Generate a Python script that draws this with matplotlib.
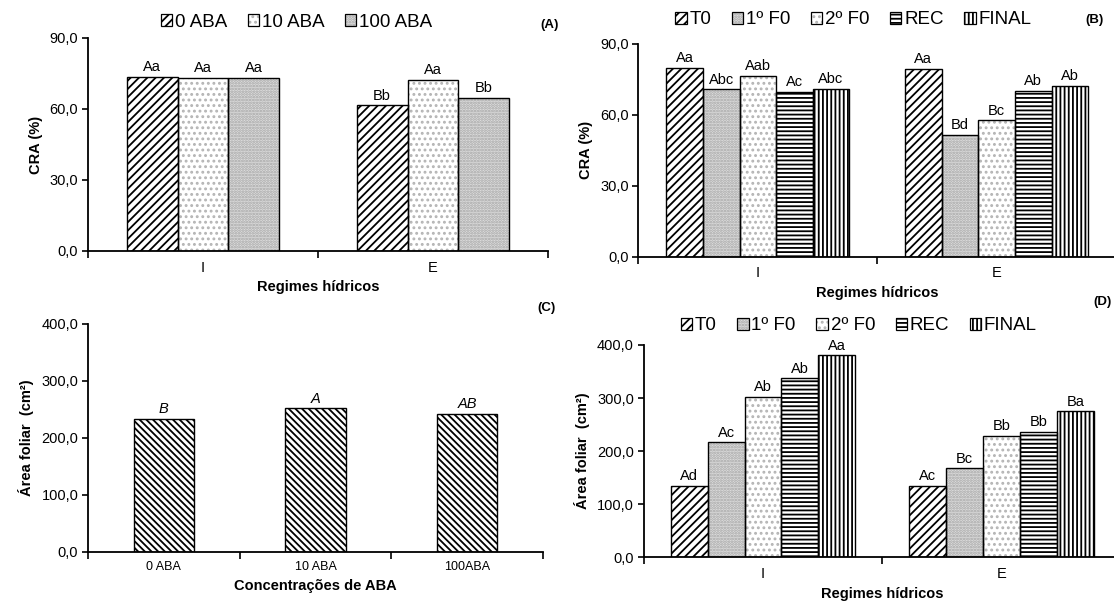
import numpy as np
import matplotlib
matplotlib.use("Agg")
import matplotlib.pyplot as plt
from matplotlib.patches import Patch

plt.rcParams["font.family"] = ["Liberation Sans", "DejaVu Sans"]
plt.rcParams["hatch.linewidth"] = 1.3

# Panel A - CRA (%) by water regime and ABA concentration
regimes = ["I", "E"]
aba_series = ["0 ABA", "10 ABA", "100 ABA"]
cra_aba = [[73.7, 61.5], [73.3, 72.2], [73.0, 64.6]]
cra_aba_letters = [["Aa", "Bb"], ["Aa", "Aa"], ["Aa", "Bb"]]

# Panel B - CRA (%) by water regime and evaluation time
times = ["T0", "1º F0", "2º F0", "REC", "FINAL"]
cra_time = [[80.0, 79.6], [70.8, 51.5], [76.5, 57.7], [69.8, 70.0], [71.0, 72.4]]
cra_time_letters = [["Aa", "Aa"], ["Abc", "Bd"], ["Aab", "Bc"], ["Ac", "Ab"], ["Abc", "Ab"]]

# Panel C - leaf area by ABA concentration
aba_levels = ["0 ABA", "10 ABA", "100ABA"]
area_aba = [233.7, 251.8, 241.9]
area_aba_letters = ["B", "A", "AB"]

# Panel D - leaf area by water regime and evaluation time
area_time = [[135.0, 134.4], [216.6, 167.7], [302.0, 228.6], [337.2, 236.7], [380.5, 275.0]]
area_time_letters = [["Ad", "Ac"], ["Ac", "Bc"], ["Ab", "Bb"], ["Ab", "Bb"], ["Aa", "Ba"]]

# fill styles: (facecolor, hatch colour, hatch)
STYLE_DIAG = ("white", "black", "////")
STYLE_SPARSE = ("white", "#b4b4b4", "...")
STYLE_DENSE = ("#dedede", "#a4a4a4", "......")
STYLE_HORIZ = ("white", "black", "----")
STYLE_VERT = ("white", "black", "||||")
STYLE_BACK = ("white", "black", "\\" * 5)


def draw_bar(ax, x, h, w, style):
    face, hcol, hatch = style
    ax.bar(x, h, w, color=face, edgecolor=hcol, hatch=hatch, linewidth=0, zorder=2)
    ax.bar(x, h, w, fill=False, edgecolor="black", linewidth=1.0, zorder=3)


def legend_handle(style):
    face, hcol, hatch = style
    return (Patch(facecolor=face, edgecolor=hcol, hatch=hatch, linewidth=0),
            Patch(fill=False, edgecolor="black", linewidth=0.9))


def style_axis(ax, ncat, ymax, ystep, cat_labels, xlabel, ylabel, cat_size=10.5):
    for s in ["top", "right"]:
        ax.spines[s].set_visible(False)
    for s in ["left", "bottom"]:
        ax.spines[s].set_linewidth(1.3)
    ax.set_xlim(-0.5, ncat - 0.5)
    ax.set_ylim(0, ymax)
    yt = np.arange(0, ymax + 1, ystep)
    ax.set_yticks(yt)
    ax.set_yticklabels([f"{v:.1f}".replace(".", ",") for v in yt], fontsize=10.5)
    ax.tick_params(axis="y", direction="out", length=4, width=1.2, pad=3)
    ax.set_xticks(np.arange(ncat + 1) - 0.5)
    ax.set_xticklabels([])
    ax.tick_params(axis="x", which="major", direction="out", length=5, width=1.2)
    ax.set_xticks(np.arange(ncat), minor=True)
    ax.set_xticklabels(cat_labels, minor=True, fontsize=cat_size)
    ax.tick_params(axis="x", which="minor", length=0, pad=7)
    ax.set_xlabel(xlabel, fontsize=10.5, fontweight="bold", labelpad=4)
    ax.set_ylabel(ylabel, fontsize=10.5, fontweight="bold", labelpad=5)


def grouped(ax, values, letters, styles, group_w):
    n = len(values)
    w = group_w / n
    x = np.arange(len(values[0]))
    for i in range(n):
        xi = x - group_w / 2 + w * (i + 0.5)
        for j in range(len(x)):
            draw_bar(ax, xi[j], values[i][j], w, styles[i])
            ax.annotate(letters[i][j], (xi[j], values[i][j]), xytext=(0, 2),
                        textcoords="offset points", ha="center", va="bottom",
                        fontsize=10.5)


def main():
    fig = plt.figure(figsize=(11.14, 6.01), dpi=100)
    ax_a = fig.add_axes([0.0790, 0.5824, 0.4129, 0.3544])
    ax_b = fig.add_axes([0.5731, 0.5729, 0.4287, 0.3539])
    ax_c = fig.add_axes([0.0790, 0.0820, 0.4084, 0.3789])
    ax_d = fig.add_axes([0.5778, 0.0727, 0.4285, 0.3533])

    aba_styles = [STYLE_DIAG, STYLE_SPARSE, STYLE_DENSE]
    time_styles = [STYLE_DIAG, STYLE_DENSE, STYLE_SPARSE, STYLE_HORIZ, STYLE_VERT]

    # (A)
    grouped(ax_a, cra_aba, cra_aba_letters, aba_styles, 0.664)
    style_axis(ax_a, 2, 90, 30, regimes, "Regimes hídricos", "CRA (%)")

    # (B)
    grouped(ax_b, cra_time, cra_time_letters, time_styles, 0.767)
    style_axis(ax_b, 2, 90, 30, regimes, "Regimes hídricos", "CRA (%)")

    # (C)
    xc = np.arange(len(aba_levels))
    for i in range(len(xc)):
        draw_bar(ax_c, xc[i], area_aba[i], 0.4, STYLE_BACK)
        ax_c.annotate(area_aba_letters[i], (xc[i], area_aba[i]), xytext=(0, 2),
                      textcoords="offset points", ha="center", va="bottom",
                      fontsize=10.5, style="italic")
    style_axis(ax_c, 3, 400, 100, aba_levels, "Concentrações de ABA",
               "Área foliar  (cm²)", cat_size=9)

    # (D)
    grouped(ax_d, area_time, area_time_letters, time_styles, 0.773)
    style_axis(ax_d, 2, 400, 100, regimes, "Regimes hídricos", "Área foliar  (cm²)")

    leg_kw = dict(loc="center", frameon=False, fontsize=13.5, handlelength=0.6,
                  handleheight=0.6, handletextpad=0.15, columnspacing=1.1,
                  borderpad=0, borderaxespad=0)
    fig.legend([legend_handle(s) for s in aba_styles], aba_series, ncol=3,
               bbox_to_anchor=(0.266, 0.963), **leg_kw)
    fig.legend([legend_handle(s) for s in time_styles], times, ncol=5,
               bbox_to_anchor=(0.766, 0.967), **leg_kw)
    fig.legend([legend_handle(s) for s in time_styles], times, ncol=5,
               bbox_to_anchor=(0.771, 0.458), **leg_kw)

    fig.text(0.4937, 0.958, "(A)", fontsize=9.5, fontweight="bold", ha="center", va="center")
    fig.text(0.9825, 0.967, "(B)", fontsize=9.5, fontweight="bold", ha="center", va="center")
    fig.text(0.4910, 0.488, "(C)", fontsize=9.5, fontweight="bold", ha="center", va="center")
    fig.text(0.9900, 0.497, "(D)", fontsize=9.5, fontweight="bold", ha="center", va="center")

    fig.savefig("out.png", dpi=100)


if __name__ == "__main__":
    main()
